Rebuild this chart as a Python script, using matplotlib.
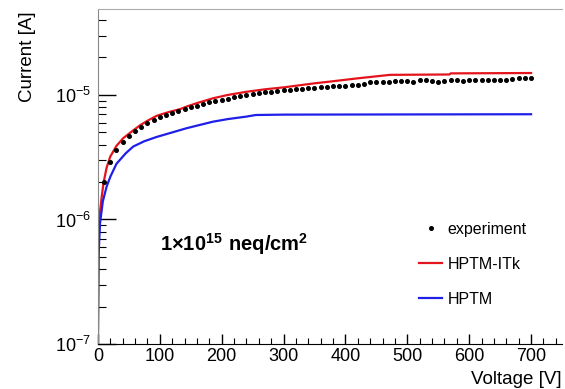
import matplotlib
matplotlib.use("Agg")
import matplotlib.pyplot as plt
from matplotlib.ticker import MultipleLocator, LogLocator, NullFormatter

plt.rcParams['font.family'] = ['Liberation Sans', 'DejaVu Sans']
plt.rcParams['mathtext.fontset'] = 'custom'
plt.rcParams['mathtext.rm'] = 'Liberation Sans'
plt.rcParams['mathtext.bf'] = 'Liberation Sans:bold'

# HPTM-ITk simulation (red)
itk_v = [0, 1, 3, 6, 9, 14, 20, 30, 41, 55, 68, 80, 95, 115, 133, 143, 160, 186,
         210, 240, 270, 300, 350, 375, 420, 472, 568, 570, 700]
itk_i = [1e-7, 7e-7, 1.1e-6, 1.5e-6, 1.95e-6, 2.6e-6, 3.2e-6, 3.9e-6, 4.5e-6, 5.1e-6,
         5.7e-6, 6.2e-6, 6.8e-6, 7.3e-6, 7.7e-6, 8.05e-6, 8.6e-6, 9.4e-6, 1.0e-5,
         1.06e-5, 1.11e-5, 1.15e-5, 1.24e-5, 1.28e-5, 1.36e-5, 1.45e-5, 1.46e-5,
         1.49e-5, 1.5e-5]

# HPTM simulation (blue)
hptm_v = [0, 1, 3.4, 8, 14, 20, 30, 45, 57, 75, 95, 120, 143, 165, 186, 210, 240,
          255, 300, 700]
hptm_i = [1e-7, 5e-7, 9.3e-7, 1.4e-6, 1.83e-6, 2.2e-6, 2.8e-6, 3.4e-6, 3.85e-6,
          4.25e-6, 4.6e-6, 5.0e-6, 5.4e-6, 5.75e-6, 6.1e-6, 6.4e-6, 6.7e-6, 6.9e-6,
          6.95e-6, 7.0e-6]

# measured points
exp_v = [10, 20, 30, 40, 50, 60, 70, 80, 90, 100, 110, 120, 130, 140, 150, 160, 170,
         180, 190, 200, 210, 220, 230, 240, 250, 260, 270, 280, 290, 300, 310, 320,
         330, 340, 350, 360, 370, 380, 390, 400, 410, 420, 430, 440, 450, 460, 470,
         480, 490, 500, 510, 520, 530, 540, 550, 560, 570, 580, 590, 600, 610, 620,
         630, 640, 650, 660, 670, 680, 690, 700]
exp_i = [2.0, 2.9, 3.6, 4.2, 4.7, 5.15, 5.55, 5.9, 6.3, 6.6, 6.9, 7.2, 7.45, 7.7,
         7.95, 8.2, 8.45, 8.7, 8.9, 9.1, 9.35, 9.55, 9.75, 9.95, 10.1, 10.3, 10.5,
         10.6, 10.8, 10.9, 11.0, 11.1, 11.2, 11.3, 11.4, 11.5, 11.6, 11.7, 11.8,
         11.9, 12.0, 12.1, 12.3, 12.6, 12.7, 12.6, 12.7, 12.9, 13.0, 12.9, 12.8,
         13.1, 13.2, 13.0, 12.8, 12.9, 13.3, 13.2, 13.0, 13.1, 13.3, 13.2, 13.2,
         13.3, 13.3, 13.3, 13.4, 13.7, 13.6, 13.6]
exp_i = [x * 1e-6 for x in exp_i]

fig = plt.figure(figsize=(5.65, 3.89), dpi=100)
ax = fig.add_axes([97.9 / 565, 1 - 344 / 389, (562 - 97.9) / 565, (344 - 9) / 389])

ax.plot(exp_v, exp_i, 'o', color='black', markersize=2.6, label='experiment', zorder=3)
ax.plot(itk_v, itk_i, color='#e3141b', lw=1.6, label='HPTM-ITk')
ax.plot(hptm_v, hptm_i, color='#1f1fe8', lw=1.6, label='HPTM')

ax.set_yscale('log')
ax.set_xlim(0, 750)
ax.set_ylim(1e-7, 4.9e-5)

ax.xaxis.set_major_locator(MultipleLocator(100))
ax.xaxis.set_minor_locator(MultipleLocator(20))
ax.yaxis.set_major_locator(LogLocator(base=10))
ax.yaxis.set_minor_locator(LogLocator(base=10, subs=range(2, 10)))
ax.yaxis.set_minor_formatter(NullFormatter())

ax.tick_params(axis='x', which='both', direction='in', top=False, labelsize=13, pad=3)
ax.tick_params(axis='x', which='major', length=7, width=1)
ax.tick_params(axis='x', which='minor', length=4, width=0.8)
ax.tick_params(axis='y', which='both', direction='in', right=False, labelsize=13, pad=5)
ax.tick_params(axis='y', which='major', length=13, width=1)
ax.tick_params(axis='y', which='minor', length=6, width=0.8)

ax.spines['right'].set_visible(False)
ax.spines['top'].set_color('#aaaaaa')
ax.spines['left'].set_color('#888888')
ax.spines['bottom'].set_color('black')

ax.text(100, 6.3e-7, r'$\mathbf{1{\times}10^{15}\ neq/cm^{2}}$', fontsize=14.5,
        va='center', ha='left')

fig.text(28 / 565, 1 - 11 / 389, 'Current [A]', rotation=90, ha='center', va='top',
         fontsize=13.5)
fig.text(471 / 565, 1 - 379 / 389, 'Voltage [V]', ha='left', va='center', fontsize=13.5)

ax.legend(loc='upper left', bbox_to_anchor=(419 / 565, 1 - 222 / 389),
          bbox_transform=fig.transFigure, frameon=False, fontsize=11.5,
          handlelength=1.45, handletextpad=0.35, labelspacing=1.25,
          borderpad=0, borderaxespad=0, markerscale=1.0)

fig.savefig('out.png', dpi=100)
